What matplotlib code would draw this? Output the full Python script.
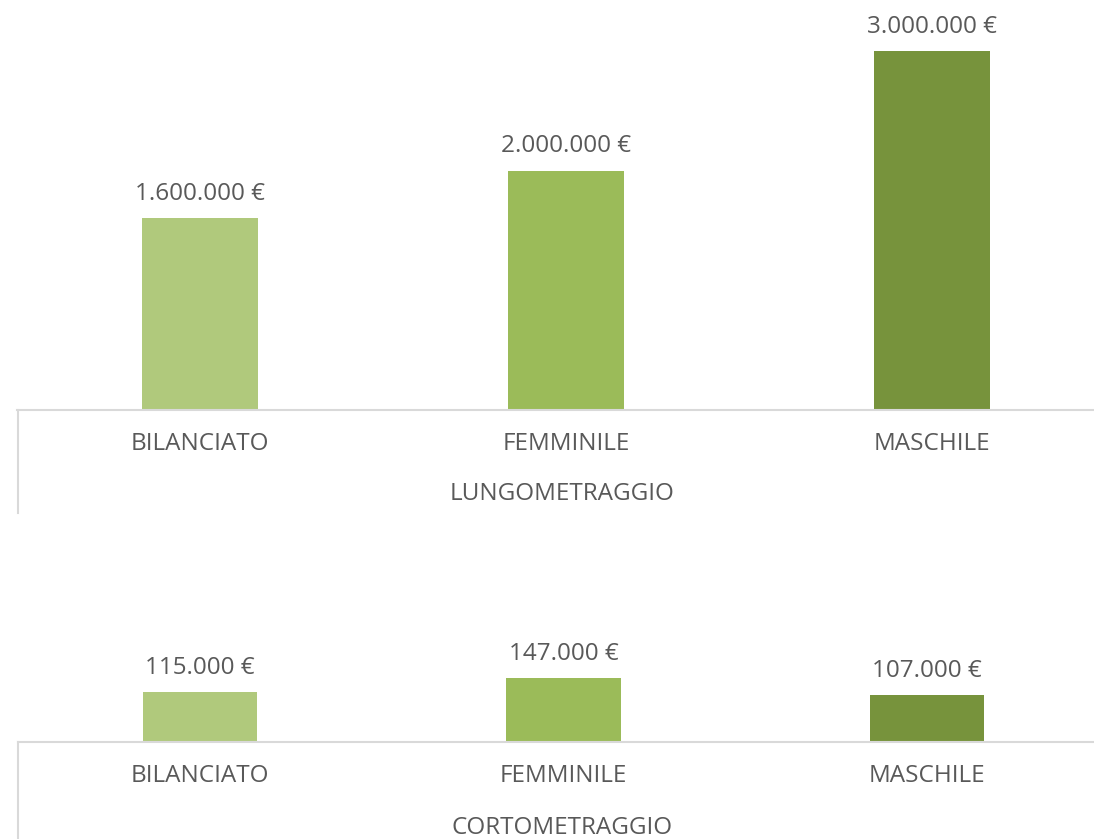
import matplotlib.pyplot as plt
import matplotlib.lines as mlines

plt.rcParams['font.family'] = ['Open Sans', 'DejaVu Sans']

# budget by gender balance of the team
categorie = ['BILANCIATO', 'FEMMINILE', 'MASCHILE']
lungo = [1600000, 2000000, 3000000]
corto = [115000, 147000, 107000]
colori = ['#B0C97C', '#9BBB59', '#77933C']

W, H = 1094, 839
fig = plt.figure(figsize=(W / 100, H / 100), dpi=100)
grigio = '#595959'
linea = '#D9D9D9'
fs = 17.5


def box(x0, y0, x1, y1):
    # pixel box (top-left origin) -> figure fraction rect
    return [x0 / W, (H - y1) / H, (x1 - x0) / W, (y1 - y0) / H]


def euro(v):
    return f"{v:,.0f}".replace(',', '.') + ' €'


def pannello(rect, valori, ymax, gruppo, vline, gy):
    ax = fig.add_axes(rect)
    x = range(len(valori))
    ax.bar(x, valori, width=0.315, color=colori)
    ax.set_xlim(-0.5, 2.5)
    ax.set_ylim(0, ymax)
    for s in ['top', 'right', 'left']:
        ax.spines[s].set_visible(False)
    ax.spines['bottom'].set_color(linea)
    ax.spines['bottom'].set_linewidth(1.5)
    ax.set_yticks([])
    ax.set_xticks(list(x))
    ax.set_xticklabels(categorie, fontsize=fs, color=grigio)
    ax.tick_params(axis='x', length=0, pad=16)
    for i, v in enumerate(valori):
        ax.annotate(euro(v), (i, v), xytext=(0, 17.5), textcoords='offset points',
                    ha='center', va='center', fontsize=fs, color=grigio)
    fig.text(562 / W, 1 - gy / H, gruppo, ha='center', va='center',
             fontsize=fs, color=grigio)
    fig.add_artist(mlines.Line2D([18 / W, 18 / W], [1 - vline[0] / H, 1 - vline[1] / H],
                                 color=linea, linewidth=1.5))
    return ax


# 119.7 px per million on the upper panel, 0.435 px per thousand below
pannello(box(17, 0, 1115, 410), lungo, 410 / 119.7e-6, 'LUNGOMETRAGGIO', (410, 513), 494)
pannello(box(18, 560, 1109, 742), corto, 182 / 0.435e-3, 'CORTOMETRAGGIO', (742, 839), 828)

fig.savefig('out.png', dpi=100)
